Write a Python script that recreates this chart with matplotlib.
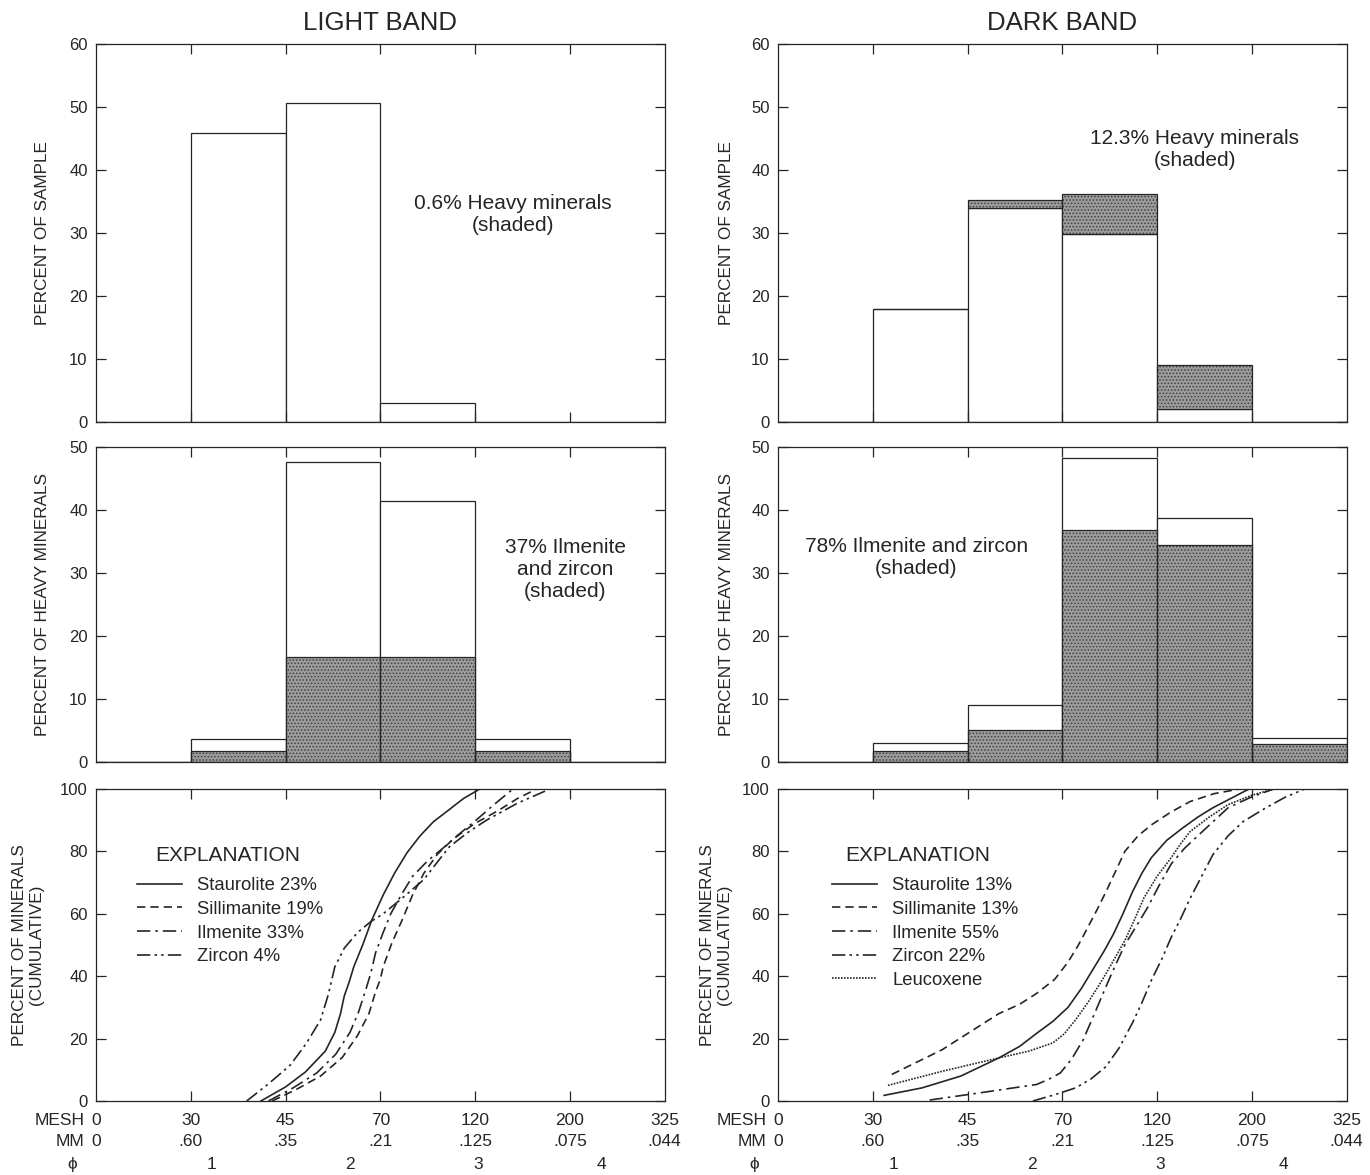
import matplotlib
matplotlib.use('Agg')
import matplotlib.pyplot as plt

plt.rcParams['font.family'] = ['Liberation Sans', 'DejaVu Sans']
plt.rcParams['hatch.linewidth'] = 0.7

# size classes: bins start at these mesh positions (0=0, 1=30, 2=45, 3=70, 4=120, 5=200, 6=325)
bin_left = [0, 1, 2, 3, 4, 5]
mesh_labels = ['0', '30', '45', '70', '120', '200', '325']
mm_labels = ['0', '.60', '.35', '.21', '.125', '.075', '.044']
phi_labels = ['1', '2', '3', '4']
phi_pos = [1.22, 2.68, 4.03, 5.33]

# percent of sample (light part / heavy part)
light_sample = [0, 45.8, 50.7, 3.0, 0, 0]
dark_sample_light = [0, 18.0, 34.0, 29.9, 2.1, 0]
dark_sample_heavy = [0, 0, 1.2, 6.3, 6.9, 0]

# percent of heavy minerals (total / ilmenite+zircon)
light_heavy = [0, 3.7, 47.6, 41.5, 3.7, 0]
light_ilm_zr = [0, 1.75, 16.7, 16.7, 1.75, 0]
dark_heavy = [0, 3.0, 9.1, 48.3, 38.7, 3.8]
dark_ilm_zr = [0, 1.7, 5.0, 36.9, 34.4, 2.9]

# cumulative curves, light band
light_names = ['Staurolite 23%', 'Sillimanite 19%', 'Ilmenite 33%', 'Zircon 4%']
light_x = [
    [1.74, 2.0, 2.21, 2.42, 2.52, 2.58, 2.62, 2.67, 2.72, 2.82, 2.91, 3.03, 3.15, 3.28, 3.42, 3.56, 3.71, 3.88, 4.05],
    [1.86, 2.12, 2.37, 2.6, 2.76, 2.88, 2.95, 3.0, 3.03, 3.12, 3.23, 3.34, 3.46, 3.6, 3.77, 4.0, 4.24, 4.45, 4.65],
    [1.82, 2.08, 2.33, 2.53, 2.68, 2.77, 2.84, 2.9, 2.95, 3.03, 3.11, 3.22, 3.34, 3.5, 3.66, 3.83, 4.01, 4.2, 4.40],
    [1.59, 1.82, 2.05, 2.22, 2.37, 2.45, 2.52, 2.62, 2.76, 2.9, 3.03, 3.25, 3.46, 3.6, 3.73, 3.92, 4.12, 4.45, 4.79],
]
light_y = [
    [0, 4.5, 9.3, 16, 22, 28, 33.7, 38, 43, 50.5, 58, 66, 73, 79.5, 85, 89.5, 93, 97, 100],
    [0, 3.8, 8, 14, 21, 28, 35, 39, 43, 50.5, 58, 66, 73, 79, 84, 89, 93, 97, 100],
    [0, 4.2, 9, 15, 22, 28.5, 35, 41, 47.5, 54, 60, 66, 72, 77, 81, 85.5, 90, 95, 100],
    [0, 5.5, 11.5, 18.5, 26, 34, 43, 49, 54, 57.5, 60, 65.5, 71, 76.5, 81.5, 86, 90, 95.5, 100],
]

# cumulative curves, dark band
dark_names = ['Staurolite 13%', 'Sillimanite 13%', 'Ilmenite 55%', 'Zircon 22%', 'Leucoxene']
dark_x = [
    [1.12, 1.52, 1.93, 2.33, 2.55, 2.73, 2.9, 3.06, 3.2, 3.34, 3.44, 3.54, 3.64, 3.74, 3.84, 3.94, 4.1, 4.27, 4.43, 4.59, 4.78, 4.97],
    [1.2, 1.73, 2.33, 2.55, 2.73, 2.92, 3.06, 3.17, 3.27, 3.37, 3.46, 3.56, 3.66, 3.8, 3.94, 4.14, 4.35, 4.6, 4.87],
    [1.6, 2.13, 2.73, 2.86, 2.98, 3.1, 3.22, 3.34, 3.46, 3.56, 3.66, 3.78, 3.9, 4.02, 4.15, 4.29, 4.43, 4.59, 4.75, 5.0, 5.23],
    [2.69, 2.92, 3.14, 3.3, 3.46, 3.6, 3.74, 3.84, 3.94, 4.05, 4.15, 4.25, 4.35, 4.47, 4.59, 4.75, 4.91, 5.15, 5.36, 5.56],
    [1.16, 1.73, 2.33, 2.65, 2.9, 3.02, 3.14, 3.28, 3.42, 3.54, 3.66, 3.76, 3.86, 4.0, 4.15, 4.25, 4.35, 4.55, 4.75, 5.0, 5.23],
]
dark_y = [
    [1.8, 4.2, 8, 13.8, 17.5, 21.7, 25.5, 30, 36, 43, 48, 53.5, 60, 67, 73, 78, 83.5, 87.5, 91, 94, 97, 100],
    [8.5, 16.4, 28, 31, 34.5, 39, 44.5, 50, 55.7, 61.5, 67, 73.5, 80, 85, 88.5, 92.5, 96, 98.5, 100],
    [0.3, 2.6, 5.3, 7, 9, 13.5, 19.6, 28, 36.6, 43.5, 50, 56, 62, 69, 76, 81, 85, 89.5, 94, 97.5, 100],
    [0, 2, 4.2, 7, 11, 17, 25, 31.5, 38.7, 45.5, 52.5, 58.5, 65, 72, 79, 85, 89.6, 94, 97.5, 100],
    [5, 9.5, 13.8, 16, 18.6, 21.5, 26, 32, 38.7, 45, 51.4, 58, 65, 72, 78, 82.5, 86.4, 91, 95, 98, 100],
]

styles = ['-', (0, (5, 3)), (0, (8, 3, 1.5, 3)), (0, (8, 2.5, 1.5, 2.5, 1.5, 2.5)), (0, (1, 0.8))]

INK = '#252525'
SHADE = dict(facecolor='#9c9c9c', edgecolor='#404040', hatch='.....', linewidth=0)


def setup(ax, ymax, ystep, ylabel, lab_x):
    ax.set_xlim(0, 6)
    ax.set_ylim(0, ymax)
    ax.set_xticks([1, 2, 3, 4, 5])
    ax.set_xticklabels([])
    ax.set_yticks(range(0, ymax + 1, ystep))
    ax.tick_params(direction='in', length=7, width=0.9, color=INK, top=True, right=True,
                   labelsize=12, labelcolor=INK, pad=6)
    for s in ax.spines.values():
        s.set_linewidth(0.9)
        s.set_color(INK)
    ax.text(lab_x, 0.5, ylabel, rotation=90, ha='center', va='center', fontsize=12.3,
            color=INK, transform=ax.transAxes, linespacing=1.2)


def bars(ax, heights, bottom=None, shaded=False):
    if shaded:
        ax.bar(bin_left, heights, width=1, align='edge', bottom=bottom, **SHADE)
        ax.bar(bin_left, heights, width=1, align='edge', bottom=bottom, fill=False,
               edgecolor=INK, linewidth=0.9)
    else:
        ax.bar(bin_left, heights, width=1, align='edge', bottom=bottom, facecolor='white',
               edgecolor=INK, linewidth=0.9)


def size_scale(ax):
    t = ax.get_xaxis_transform()
    ax.text(-0.12, -0.061, 'MESH', ha='right', va='center', fontsize=12.5, color=INK, transform=t)
    ax.text(-0.12, -0.131, 'MM', ha='right', va='center', fontsize=12.5, color=INK, transform=t)
    ax.text(-0.25, -0.205, '\u03d5', ha='center', va='center', fontsize=12.5, color=INK, transform=t)
    for i in range(len(mesh_labels)):
        ax.text(i, -0.061, mesh_labels[i], ha='center', va='center', fontsize=12.5, color=INK, transform=t)
        ax.text(i, -0.131, mm_labels[i], ha='center', va='center', fontsize=12.5, color=INK, transform=t)
    for p, lab in zip(phi_pos, phi_labels):
        ax.text(p, -0.205, lab, ha='center', va='center', fontsize=12.5, color=INK, transform=t)


def curves(ax, xs, ys, names, lx, tx):
    for i in range(len(names)):
        ax.plot(xs[i], ys[i], linestyle=styles[i], color=INK, linewidth=1.2, label=names[i])
    ax.text(tx, 0.788, 'EXPLANATION', ha='center', va='center', fontsize=15, color=INK,
            transform=ax.transAxes)
    leg = ax.legend(loc='upper left', bbox_to_anchor=(lx, 0.717), frameon=False,
                    fontsize=13.3, handlelength=2.45, handletextpad=0.8,
                    labelspacing=0.36, borderpad=0, borderaxespad=0)
    for t in leg.get_texts():
        t.set_color(INK)


fig = plt.figure(figsize=(13.7, 11.75), dpi=100)
cols = [0.0701, 0.5679]
w = 0.415
rows = [(0.6409, 0.3217), (0.3515, 0.2681), (0.0630, 0.2655)]
axs = [[fig.add_axes([c, b, w, h]) for c in cols] for b, h in rows]

# top row
ax = axs[0][0]
setup(ax, 60, 10, 'PERCENT OF SAMPLE', -0.095)
bars(ax, light_sample)
ax.text(4.4, 33, '0.6% Heavy minerals\n(shaded)', ha='center', va='center', fontsize=15,
        color=INK, linespacing=1.2)
ax.set_title('LIGHT BAND', fontsize=18.5, color=INK, pad=10)

ax = axs[0][1]
setup(ax, 60, 10, 'PERCENT OF SAMPLE', -0.09)
bars(ax, dark_sample_light)
bars(ax, dark_sample_heavy, bottom=dark_sample_light, shaded=True)
ax.text(4.4, 43.2, '12.3% Heavy minerals\n(shaded)', ha='center', va='center', fontsize=15,
        color=INK, linespacing=1.2)
ax.set_title('DARK BAND', fontsize=18.5, color=INK, pad=10)

# middle row
ax = axs[1][0]
setup(ax, 50, 10, 'PERCENT OF HEAVY MINERALS', -0.095)
bars(ax, light_heavy)
bars(ax, light_ilm_zr, shaded=True)
ax.text(4.95, 30.5, '37% Ilmenite\nand zircon\n(shaded)', ha='center', va='center', fontsize=15,
        color=INK, linespacing=1.2)

ax = axs[1][1]
setup(ax, 50, 10, 'PERCENT OF HEAVY MINERALS', -0.09)
bars(ax, dark_heavy)
bars(ax, dark_ilm_zr, shaded=True)
ax.text(1.46, 32.4, '78% Ilmenite and zircon\n(shaded)', ha='center', va='center', fontsize=15,
        color=INK, linespacing=1.2)

# bottom row
ax = axs[2][0]
setup(ax, 100, 20, 'PERCENT OF MINERALS\n(CUMULATIVE)', -0.12)
curves(ax, light_x, light_y, light_names, 0.072, 0.232)
size_scale(ax)

ax = axs[2][1]
setup(ax, 100, 20, 'PERCENT OF MINERALS\n(CUMULATIVE)', -0.109)
curves(ax, dark_x, dark_y, dark_names, 0.095, 0.246)
size_scale(ax)

plt.savefig('out.png', dpi=100, facecolor='white')
